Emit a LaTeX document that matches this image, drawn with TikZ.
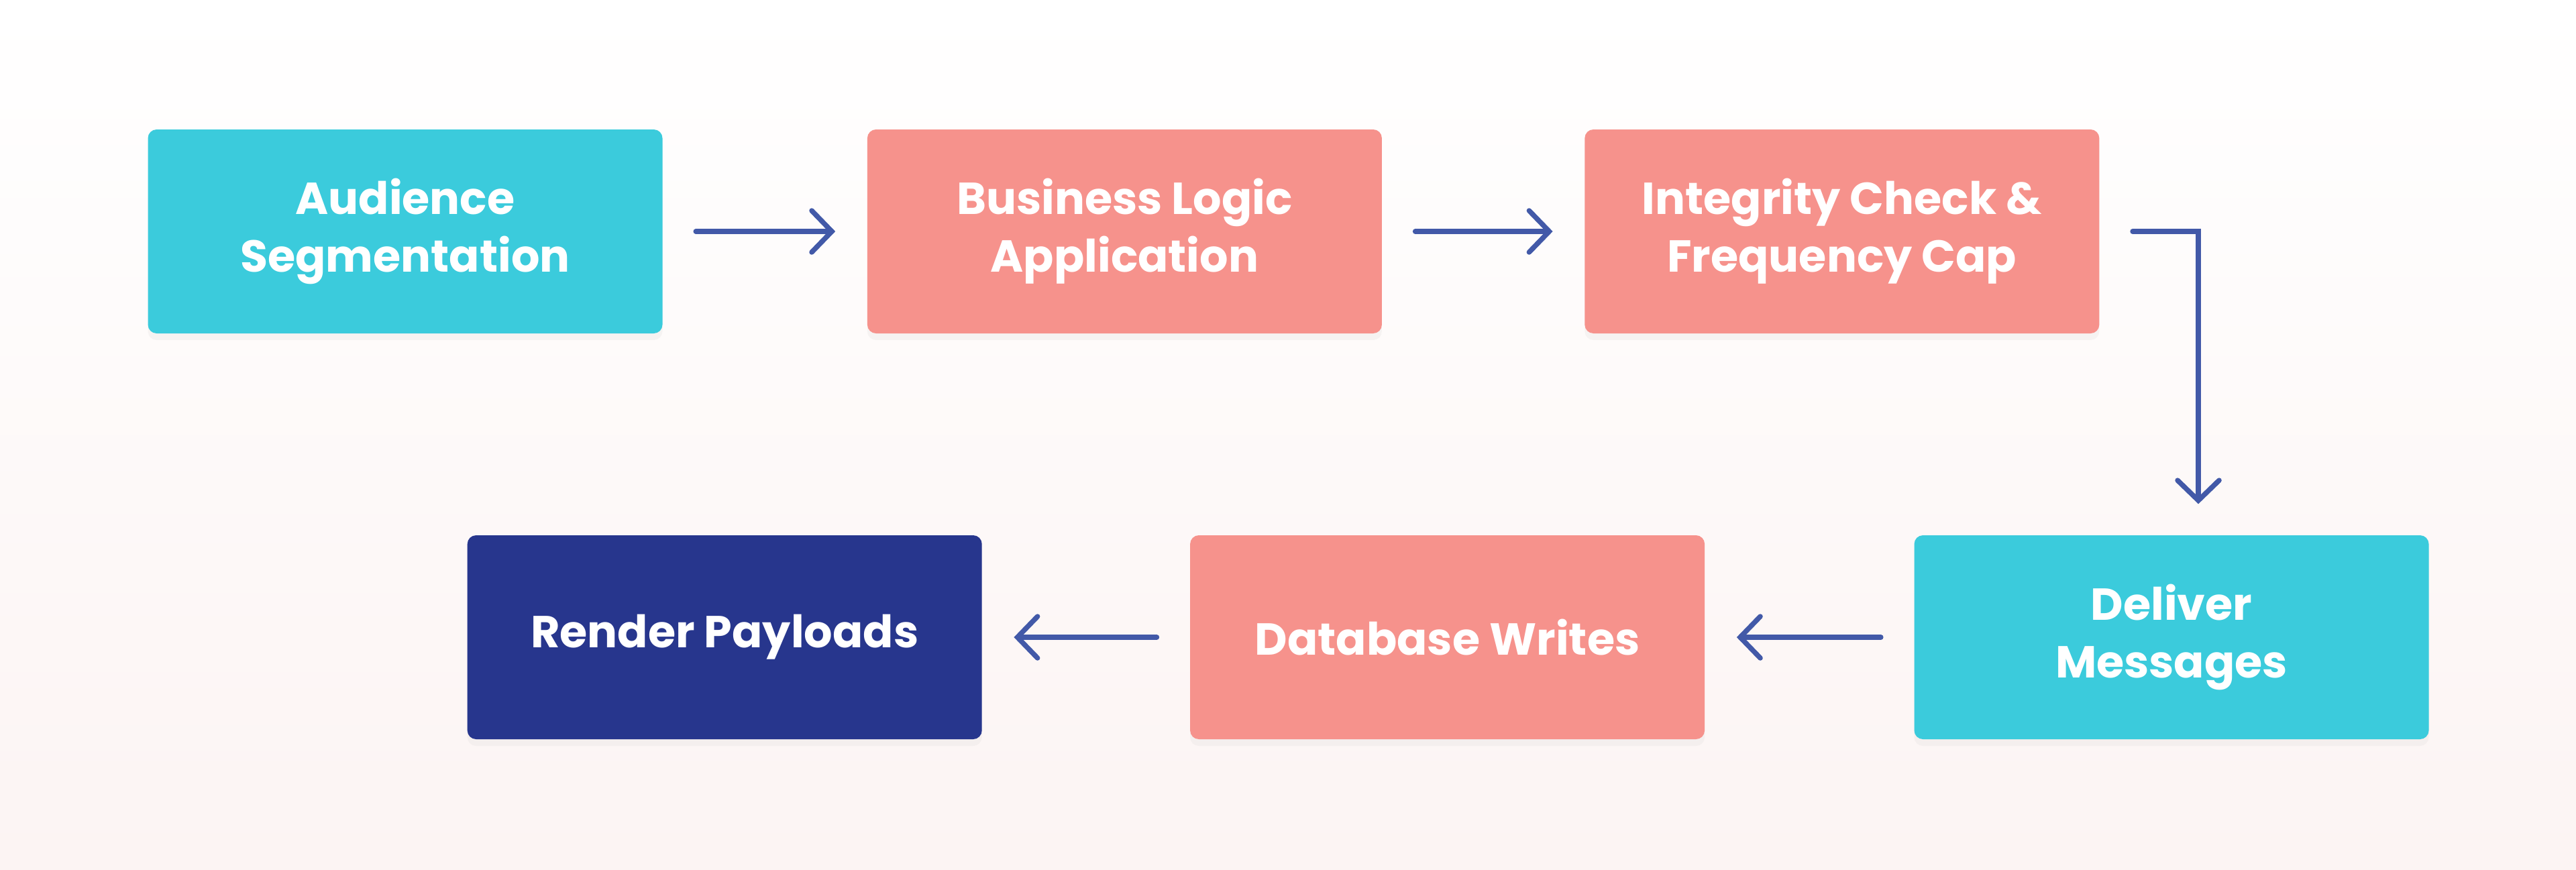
\documentclass[tikz,border=0pt]{standalone}
\usepackage{fontspec}
\setmainfont{Poppins}
\usepackage{xcolor}
\usetikzlibrary{arrows.meta}
\usetikzlibrary{positioning, shadows}

\definecolor{segcyan}{RGB}{59,203,220}
\definecolor{segsalmon}{RGB}{246,146,140}
\definecolor{segnavy}{RGB}{39,54,141}
\definecolor{segarrow}{RGB}{66,89,168}
\definecolor{segbgbottom}{RGB}{252,244,243}

\begin{document}
\begin{tikzpicture}[
        flowbox/.style={rectangle, rounded corners=0.13cm, minimum width=7.67cm, minimum height=3.04cm,
            text=white, align=center, font=\fontsize{19}{24.5}\selectfont\bfseries,
            drop shadow={opacity=0.06, shadow xshift=0cm, shadow yshift=-0.1cm}},
        flowarrow/.style={draw=segarrow, line width=0.075cm, line cap=round,
            -{Straight Barb[length=0.3cm, width=0.62cm, line cap=round]}}
    ]
        \newcommand{\segpicwidth}{38.4}
        \newcommand{\segpicheight}{12.96}
        \newcommand{\seggapstart}{0.49cm}
        \newcommand{\seggapend}{0.47cm}
        % background
        \shade[top color=white, bottom color=segbgbottom] (0,0) rectangle (\segpicwidth,-\segpicheight);
        \useasboundingbox (0,0) rectangle (\segpicwidth,-\segpicheight);
        % top row
        \node[flowbox, fill=segcyan] (audience) at (6.04,-3.45) {Audience\\Segmentation};
        \node[flowbox, fill=segsalmon, right=3.04cm of audience] (business) {Business Logic\\Application};
        \node[flowbox, fill=segsalmon, right=3.01cm of business] (integrity) {Integrity Check \&\\Frequency Cap};
        % bottom row
        \node[flowbox, fill=segcyan] (deliver) at (32.37,-9.50) {Deliver\\Messages};
        \node[flowbox, fill=segsalmon, left=3.11cm of deliver] (database) {Database Writes};
        \node[flowbox, fill=segnavy, left=3.09cm of database] (render) {Render Payloads};
        % connectors
        \draw[flowarrow, shorten <=\seggapstart, shorten >=\seggapend] (audience) -- (business);
        \draw[flowarrow, shorten <=\seggapstart, shorten >=\seggapend] (business) -- (integrity);
        \draw[flowarrow, shorten <=\seggapstart, shorten >=0.46cm] (integrity.east) -| ([xshift=0.4cm]deliver.north);
        \draw[flowarrow, shorten <=\seggapstart, shorten >=\seggapend] (deliver) -- (database);
        \draw[flowarrow, shorten <=\seggapstart, shorten >=\seggapend] (database) -- (render);
    \end{tikzpicture}
\end{document}
